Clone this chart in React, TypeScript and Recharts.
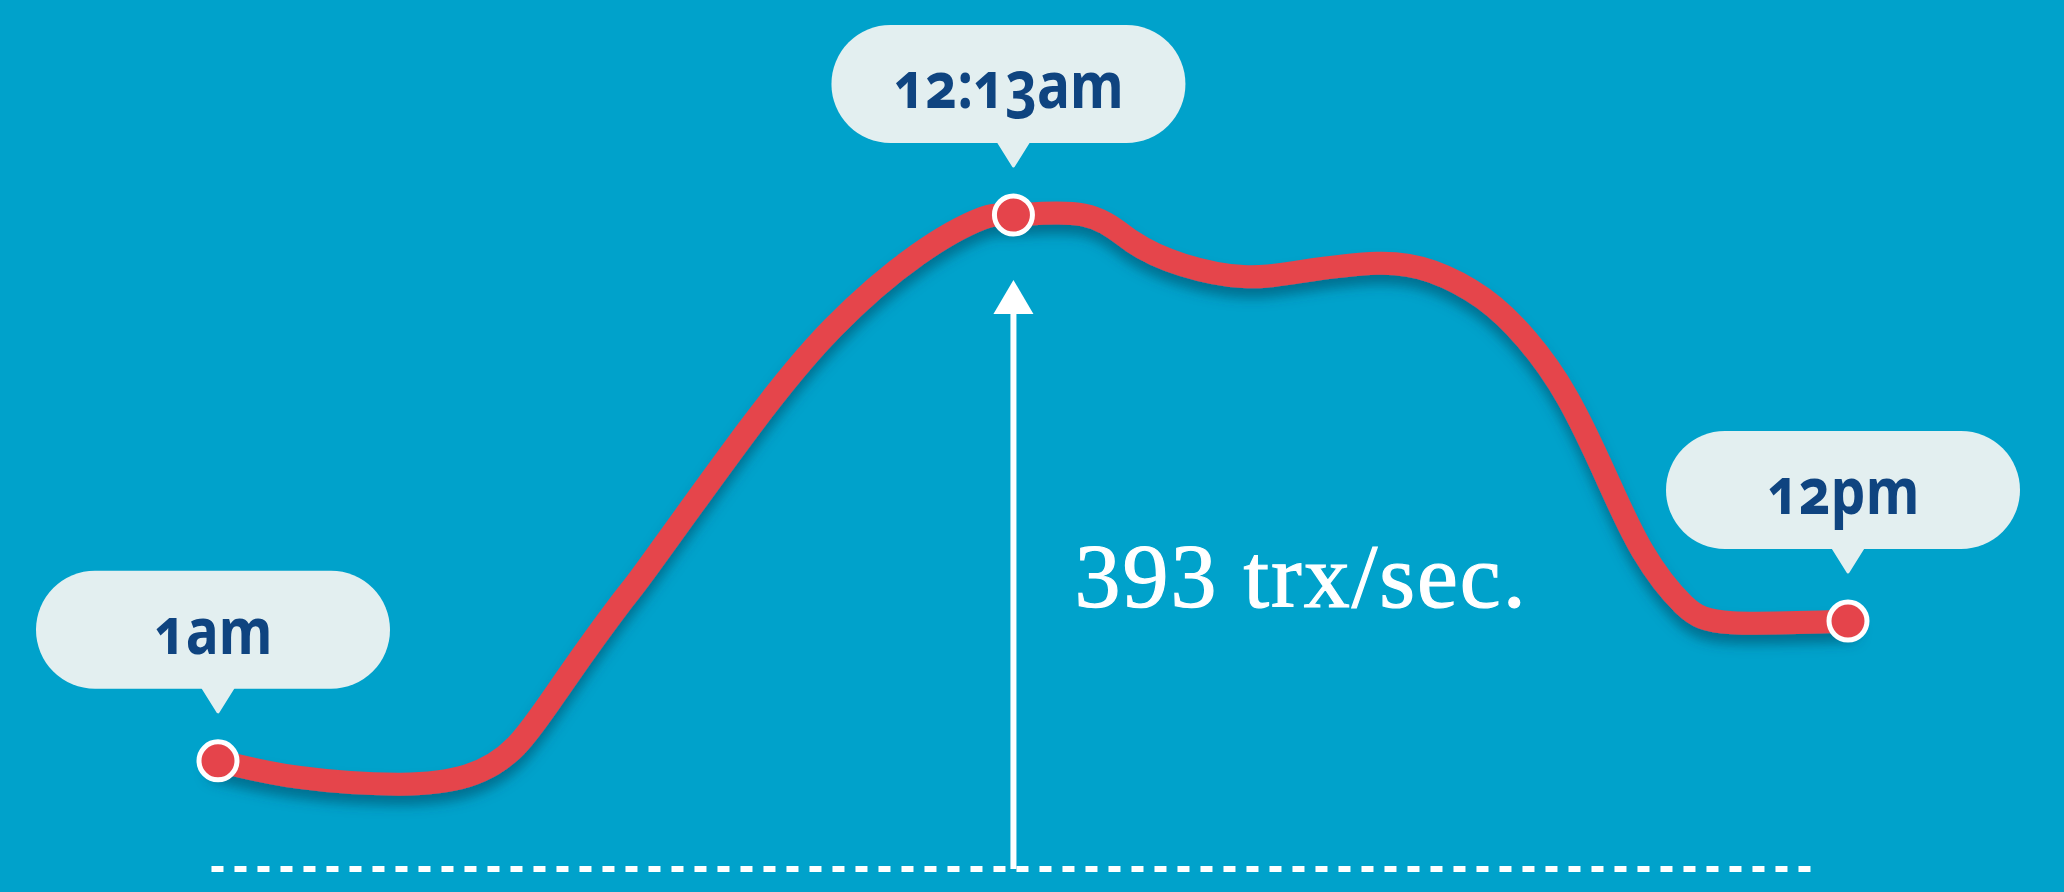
import React from 'react';
import { LineChart, Line, XAxis, YAxis, ReferenceLine } from 'recharts';

if (typeof document !== 'undefined') document.body.style.margin = '0';

// position along the day (0-100 scale) and throughput
const POSITIONS = [
  0, 5.0, 11.2, 15.3, 18.3, 21.4, 24.8, 26.5, 32.6, 37.7, 42.9, 46.9, 48.8, 53.1,
  56.1, 59.2, 62.9, 66.4, 71.1, 74.5, 77.6, 80.3, 82.8, 85.2, 87.4, 89.9, 92.9, 100,
];
const TRX_PER_SEC = [
  65, 55, 51, 56, 74, 115, 161, 183, 265, 325, 369, 391, 393, 393,
  377, 363, 356, 359, 364, 359, 343, 318, 283, 235, 191, 159, 148, 149,
];

// callouts: which point, and its text
const CALLOUT_INDEX = [0, 12, 27];
const CALLOUT_LABELS = ['1am', '12:13am', '12pm'];

const PEAK_INDEX = 12;
const ARROW_TOP = 354;
const BASELINE_FROM = -0.4;
const BASELINE_TO = 97.7;

const BG = '#00a2cb';
const RED = '#e5444b';
const BUBBLE = '#e3eff0';
const NAVY = '#0f4480';

const data = POSITIONS.map((t, i) => ({ t, trx: TRX_PER_SEC[i] }));

const renderDot = (p: any) => {
  const { cx, cy, index } = p;
  const k = CALLOUT_INDEX.indexOf(index);
  if (k < 0) return <g key={`d${index}`} />;
  const bw = 354;
  const bh = 118;
  const bottom = cy - 72;
  const mid = cx - 5;
  const tipY = cy - 47;
  return (
    <g key={`d${index}`}>
      <rect x={mid - bw / 2} y={bottom - bh} width={bw} height={bh} rx={59} ry={59} fill={BUBBLE} />
      <path
        d={`M${cx - 15},${bottom - 1} L${cx + 15},${bottom - 1} L${cx},${tipY - 2} Z`}
        fill={BUBBLE}
        stroke={BUBBLE}
        strokeWidth={3}
        strokeLinejoin="round"
      />
      <g transform={`translate(${mid},${bottom - bh + 83}) scale(0.86,1)`}>
        <text
          x={0}
          y={0}
          textAnchor="middle"
          fill={NAVY}
          fontFamily="'Noto Sans', sans-serif"
          fontWeight={700}
          fontSize={64}
          style={{ fontVariantNumeric: 'oldstyle-nums' }}
        >
          {CALLOUT_LABELS[k]}
        </text>
      </g>
      <circle cx={cx} cy={cy} r={19} fill={RED} stroke="#fff" strokeWidth={5} />
    </g>
  );
};

const arrowShape = (p: any) => {
  const { x1, y1, y2 } = p;
  const top = Math.min(y1, y2);
  const bottom = Math.max(y1, y2);
  return (
    <g>
      <line x1={x1} y1={bottom} x2={x1} y2={top + 30} stroke="#fff" strokeWidth={6} />
      <path d={`M${x1},${top} L${x1 + 20},${top + 34} L${x1 - 20},${top + 34} Z`} fill="#fff" />
      <text
        x={x1 + 61}
        y={bottom - 262}
        fill="#fff"
        stroke="#fff"
        strokeWidth={1.2}
        fontFamily="'Liberation Serif', serif"
        fontSize={92}
        letterSpacing={2}
      >
        {`${TRX_PER_SEC[PEAK_INDEX]} trx/sec.`}
      </text>
    </g>
  );
};

export default function App() {
  return (
    <div style={{ width: 2064, height: 892, background: BG }}>
      <LineChart width={2064} height={892} data={data} margin={{ top: 215, right: 216, bottom: 23, left: 218 }}>
        <defs>
          <filter id="lineShadow" x="-10%" y="-10%" width="120%" height="130%">
            <feDropShadow dx={0} dy={10} stdDeviation={6} floodColor="#00405a" floodOpacity={0.5} />
          </filter>
        </defs>
        <XAxis dataKey="t" type="number" domain={[0, 100]} hide />
        <YAxis type="number" domain={[0, 393]} hide />
        <ReferenceLine
          segment={[{ x: BASELINE_FROM, y: 0 }, { x: BASELINE_TO, y: 0 }]}
          stroke="#fff"
          strokeWidth={6}
          strokeDasharray="12 11"
          ifOverflow="visible"
        />
        <ReferenceLine
          segment={[{ x: POSITIONS[PEAK_INDEX], y: 0 }, { x: POSITIONS[PEAK_INDEX], y: ARROW_TOP }]}
          stroke="#fff"
          ifOverflow="visible"
          shape={arrowShape}
        />
        <Line
          type="natural"
          dataKey="trx"
          stroke={RED}
          strokeWidth={23}
          strokeLinecap="round"
          filter="url(#lineShadow)"
          dot={renderDot}
          activeDot={false}
          isAnimationActive={false}
        />
      </LineChart>
    </div>
  );
}
